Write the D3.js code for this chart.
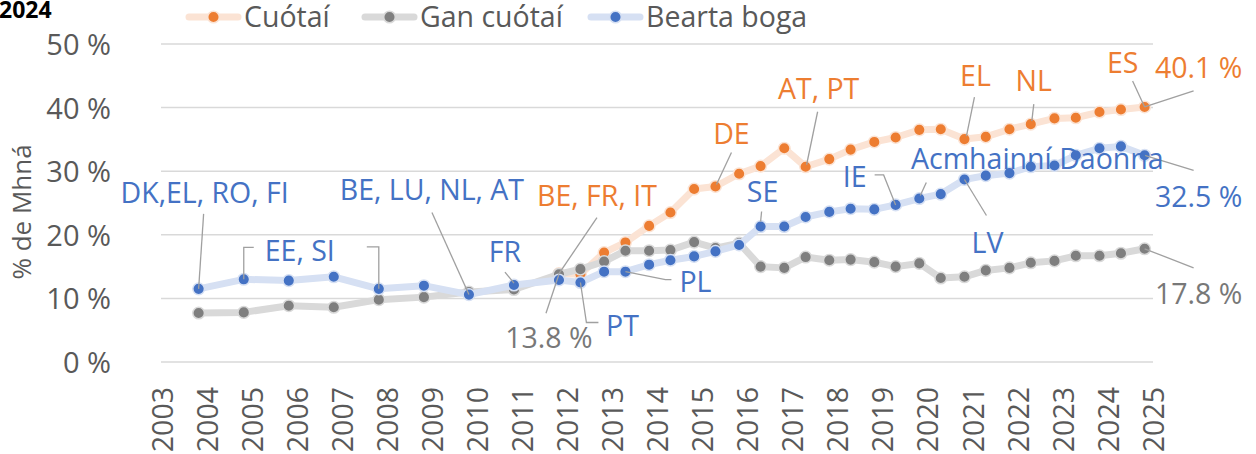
<!DOCTYPE html>
<html><head><meta charset="utf-8">
<script src="https://cdn.jsdelivr.net/npm/d3@7"></script>
<style>
html,body{margin:0;padding:0;background:#fff;overflow:hidden;}
svg{display:block;font-family:"Open Sans","Noto Sans",sans-serif;}
</style></head><body>
<svg id="chart" width="1256" height="454"></svg>
<script>
// ---------------- data ----------------
const periods = [
  "2003-10-25","2004-10-25","2005-10-25","2006-10-25","2007-10-25","2008-10-25","2009-10-25","2010-10-25","2011-10-25",
  "2012-04-16","2012-10-25","2013-04-16","2013-10-25","2014-04-16","2014-10-25","2015-04-16","2015-10-25",
  "2016-04-16","2016-10-25","2017-04-16","2017-10-25","2018-04-16","2018-10-25","2019-04-16","2019-10-25",
  "2020-04-16","2020-10-25","2021-04-16","2021-10-25","2022-04-16","2022-10-25","2023-04-16","2023-10-25",
  "2024-04-16","2024-10-25"
];
const quotas = [null,null,null,null,null,null,null,null,13.9,
  13.8,17.2,18.8,21.4,23.5,27.2,27.6,29.6,
  30.8,33.6,30.7,31.9,33.4,34.6,35.3,36.5,
  36.6,35.05,35.4,36.6,37.4,38.3,38.4,39.3,
  39.7,40.1];
const noQuotas = [7.7,7.8,8.85,8.6,9.8,10.2,11.0,11.4,13.8,
  14.6,15.8,17.5,17.5,17.6,18.85,17.9,18.7,
  15.0,14.8,16.5,16.0,16.1,15.7,15.0,15.5,
  13.2,13.4,14.4,14.8,15.6,15.9,16.7,16.7,
  17.1,17.8];
const softMeasures = [11.5,13.0,12.8,13.4,11.5,12.0,10.6,12.1,12.9,
  12.5,14.2,14.2,15.3,16.0,16.6,17.4,18.4,
  21.3,21.3,22.8,23.6,24.1,24.0,24.7,25.7,
  26.4,28.7,29.3,29.7,30.7,30.9,32.5,33.6,
  33.9,32.5];
const seriesNames = ["Cuótaí","Gan cuótaí","Bearta boga"];
const yTickValues = [0,10,20,30,40,50];
const xTickYears = d3.range(2003, 2026);
const chartTitle = "2024";
const yAxisTitle = "% de Mhná";
// annotation texts and which point they refer to (series index, period index)
const annotationTexts = ["DK,EL, RO, FI","EE, SI","BE, LU, NL, AT","FR","PT","PL","SE","IE","Acmhainní Daonna","LV","32.5 %",
  "BE, FR, IT","DE","AT, PT","EL","NL","ES","40.1 %","13.8 %","17.8 %"];
const annotationSeries = [2,2,2,2,2,2,2,2,2,2,2, 0,0,0,0,0,0,0, 1,1];
const annotationPoint  = [0,1,6,7,9,11,17,23,24,26,34, 8,15,19,26,29,34,34, 8,34];

// ---------------- layout / style ----------------
const W = 1256, H = 454;
const colors = ["#ED7D31","#7F7F7F","#4472C4"];
const lineColors = ["#FBE3D4","#D9D9D9","#D6E0F3"];
const textColors = ["#ED7D31","#787878","#4472C4"];
const axisText = "#595959";
const leaderColor = "#A0A0A0";
const FS = 28.5;
const R = 5.8;
// label centre offsets (px) relative to anchor point, and leader polylines
const labelOffsets = [[6,-96],[56,-29],[-37,-105],[-9,-33],[42,43],[70,10],[2,-35],[-41,-28],[118,-40],[23,63],[54,41],
  [38,-78],[16,-53],[13,-78],[11,-63],[3,-43],[-22,-44],[54,-39],[-10,64],[54,45]];
const leaders = [
  {s:2,p:0,pts:[[5,-75],[0,0]]},
  {s:2,p:1,pts:[[0,0],[0,-32],[10,-32]]},
  {s:2,p:4,pts:[[-12,-42],[0,-42],[0,0]]},
  {s:2,p:6,pts:[[-37,-82],[0,0]]},
  {s:2,p:7,pts:[[-9,-13],[0,-2]]},
  {s:2,p:9,pts:[[0,0],[6,40],[18,40]]},
  {s:2,p:11,pts:[[0,0],[40,8],[46,8]]},
  {s:2,p:17,pts:[[1,-15],[0,-5]]},
  {s:2,p:23,pts:[[-21,-30],[-12,-30],[0,0]]},
  {s:2,p:24,pts:[[7,-16],[1,-3]]},
  {s:2,p:26,pts:[[0,0],[22,36]]},
  {s:2,p:34,pts:[[0,0],[49,15]]},
  {s:0,p:8,pts:[[38,-56],[0,0]]},
  {s:0,p:15,pts:[[16,-34],[1,-2]]},
  {s:0,p:19,pts:[[12,-55],[1,-2]]},
  {s:0,p:26,pts:[[10,-42],[2,-3]]},
  {s:0,p:29,pts:[[3,-20],[1,-3]]},
  {s:0,p:34,pts:[[-12,-26],[0,0]]},
  {s:0,p:34,pts:[[0,0],[49,-16]]},
  {s:1,p:8,pts:[[-13,39],[0,0]]},
  {s:1,p:34,pts:[[0,0],[49,19]]}
];

// ---------------- drawing ----------------
const parse = d3.timeParse("%Y-%m-%d");
const dates = periods.map(parse);
const allSeries = [quotas, noQuotas, softMeasures];

const x = d3.scaleTime().domain([new Date(2003,0,1), new Date(2025,0,1)]).range([162,1153]);
const y = d3.scaleLinear().domain([0,50]).range([362,44]);

const svg = d3.select("#chart");
svg.append("rect").attr("width",W).attr("height",H).attr("fill","#fff");

// title
svg.append("text").attr("x",-1).attr("y",18).attr("font-size",23).attr("font-weight",700)
  .attr("fill","#000").text(chartTitle);

// gridlines
svg.append("g").selectAll("line").data(yTickValues).join("line")
  .attr("x1",161).attr("x2",1153).attr("y1",d=>y(d)).attr("y2",d=>y(d))
  .attr("stroke","#D9D9D9").attr("stroke-width",1.5);

// y axis labels
const yAxis = d3.axisLeft(y).tickValues(yTickValues).tickFormat(d=>d+" %").tickSize(0).tickPadding(0);
const gy = svg.append("g").attr("transform","translate(111,0)").call(yAxis);
gy.select(".domain").remove();
gy.selectAll("text").attr("font-size",29).attr("fill",axisText).attr("font-family","Open Sans").attr("dy","0.36em");

// x axis labels (rotated)
const xAxis = d3.axisBottom(x).tickValues(xTickYears.map(yr=>new Date(yr,0,1))).tickFormat(d3.timeFormat("%Y")).tickSize(0);
const gx = svg.append("g").attr("transform","translate(0,387)").call(xAxis);
gx.select(".domain").remove();
gx.selectAll("text").attr("font-size",28.5).attr("fill",axisText).attr("font-family","Open Sans")
  .attr("transform","rotate(-90)").attr("text-anchor","end").attr("x",0).attr("y",0).attr("dy","0.36em");

// y axis title
svg.append("text").attr("transform","translate(22,212) rotate(-90)").attr("text-anchor","middle")
  .attr("dy","0.36em").attr("font-size",26).attr("fill",axisText).text(yAxisTitle);

// series
const line = d3.line().defined(d=>d.v!=null).x(d=>x(d.d)).y(d=>y(d.v));
allSeries.forEach((vals,i)=>{
  const pts = vals.map((v,k)=>({d:dates[k],v}));
  const g = svg.append("g");
  g.append("path").datum(pts).attr("d",line).attr("fill","none")
    .attr("stroke",lineColors[i]).attr("stroke-width",7).attr("stroke-linejoin","round").attr("stroke-linecap","round");
  g.selectAll("circle").data(pts.filter(p=>p.v!=null)).join("circle")
    .attr("cx",p=>x(p.d)).attr("cy",p=>y(p.v)).attr("r",R)
    .attr("fill",colors[i]).attr("stroke",lineColors[i]).attr("stroke-width",1.5);
});

// leaders
const anchor = (s,p)=>[x(dates[p]), y(allSeries[s][p])];
svg.append("g").selectAll("polyline").data(leaders).join("polyline")
  .attr("points",l=>{const [ax,ay]=anchor(l.s,l.p);return l.pts.map(q=>(ax+q[0])+","+(ay+q[1])).join(" ");})
  .attr("fill","none").attr("stroke",leaderColor).attr("stroke-width",1.3);

// labels
svg.append("g").selectAll("text").data(annotationTexts).join("text")
  .attr("x",(t,i)=>anchor(annotationSeries[i],annotationPoint[i])[0]+labelOffsets[i][0])
  .attr("y",(t,i)=>anchor(annotationSeries[i],annotationPoint[i])[1]+labelOffsets[i][1])
  .attr("dy","0.36em").attr("text-anchor","middle").attr("font-size",FS)
  .attr("fill",(t,i)=>textColors[annotationSeries[i]]).text(t=>t);

// legend
const legendX = [187,363,589];
const lg = svg.append("g");
seriesNames.forEach((n,i)=>{
  const lx = legendX[i];
  lg.append("line").attr("x1",lx+2).attr("x2",lx+51).attr("y1",17).attr("y2",17)
    .attr("stroke",lineColors[i]).attr("stroke-width",7).attr("stroke-linecap","round");
  lg.append("circle").attr("cx",lx+26.5).attr("cy",17).attr("r",R).attr("fill",colors[i])
    .attr("stroke",lineColors[i]).attr("stroke-width",1.5);
  lg.append("text").attr("x",lx+57).attr("y",17).attr("dy","0.36em").attr("font-size",28.5)
    .attr("fill",axisText).text(n);
});
</script>
</body></html>
